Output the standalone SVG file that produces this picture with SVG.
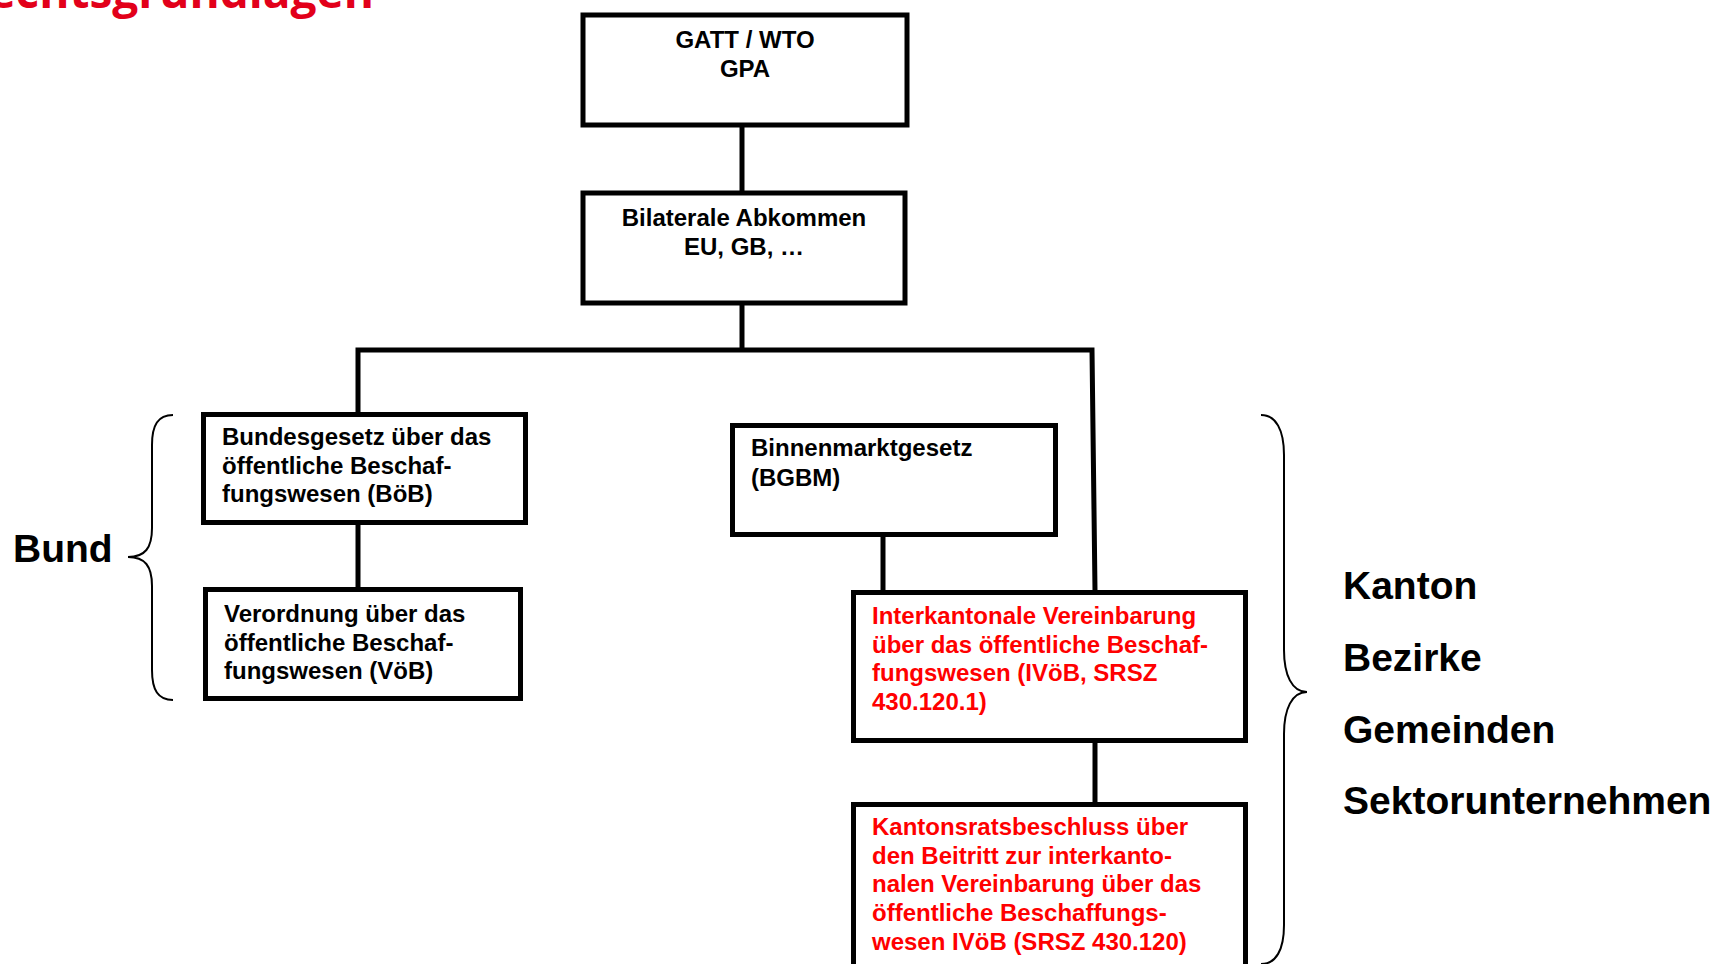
<svg xmlns="http://www.w3.org/2000/svg" width="1722" height="964" viewBox="0 0 1722 964">
<style>
.box{fill:#fff;stroke:#000;stroke-width:5}
.con{fill:none;stroke:#000;stroke-width:5;stroke-linejoin:miter}
.brace{fill:none;stroke:#000;stroke-width:2}
.t{font-family:"Liberation Sans",Arial,sans-serif;font-weight:bold;font-size:24px;fill:#000}
.r{fill:#ff0000}
.big{font-family:"Liberation Sans",Arial,sans-serif;font-weight:bold;font-size:39px;fill:#000}
.title{font-family:"Open Sans","Liberation Sans",sans-serif;font-weight:bold;font-size:46px;fill:#e2001a}
</style>
<rect width="1722" height="964" fill="#fff"/>
<text class="title" x="374" y="8" text-anchor="end">Rechtsgrundlagen</text>
<g id="connectors">
<path class="con" d="M742,127 V191"/>
<path class="con" d="M742,305 V350"/>
<path class="con" d="M358,412 V350 H1092 L1095,590"/>
<path class="con" d="M358,525 V587"/>
<path class="con" d="M883,537 V590"/>
<path class="con" d="M1095,743 V802"/>
</g>
<g id="gatt">
<rect class="box" x="583" y="15" width="324" height="110"/>
<text class="t" x="745" y="48" text-anchor="middle">GATT / WTO</text>
<text class="t" x="745" y="77" text-anchor="middle">GPA</text>
</g>
<g id="bilateral">
<rect class="box" x="583" y="193" width="322" height="110"/>
<text class="t" x="744" y="226" text-anchor="middle">Bilaterale Abkommen</text>
<text class="t" x="744" y="255" text-anchor="middle">EU, GB, …</text>
</g>
<g id="boeb">
<rect class="box" x="203.5" y="414.5" width="322" height="108"/>
<text class="t" x="222" y="445">Bundesgesetz über das</text>
<text class="t" x="222" y="474">öffentliche Beschaf-</text>
<text class="t" x="222" y="502">fungswesen (BöB)</text>
</g>
<g id="voeb">
<rect class="box" x="205.5" y="589.5" width="315" height="109"/>
<text class="t" x="224" y="622">Verordnung über das</text>
<text class="t" x="224" y="651">öffentliche Beschaf-</text>
<text class="t" x="224" y="679">fungswesen (VöB)</text>
</g>
<g id="bgbm">
<rect class="box" x="732.5" y="425.5" width="323" height="109"/>
<text class="t" x="751" y="456">Binnenmarktgesetz</text>
<text class="t" x="751" y="486">(BGBM)</text>
</g>
<g id="ivoeb">
<rect class="box" x="853.5" y="592.5" width="392" height="148"/>
<text class="t r" x="872" y="624">Interkantonale Vereinbarung</text>
<text class="t r" x="872" y="653">über das öffentliche Beschaf-</text>
<text class="t r" x="872" y="681">fungswesen (IVöB, SRSZ</text>
<text class="t r" x="872" y="710">430.120.1)</text>
</g>
<g id="krb">
<rect class="box" x="853.5" y="804.5" width="392" height="200"/>
<text class="t r" x="872" y="835">Kantonsratsbeschluss über</text>
<text class="t r" x="872" y="864">den Beitritt zur interkanto-</text>
<text class="t r" x="872" y="892">nalen Vereinbarung über das</text>
<text class="t r" x="872" y="921">öffentliche Beschaffungs-</text>
<text class="t r" x="872" y="950">wesen IVöB (SRSZ 430.120)</text>
</g>
<g id="bund">
<path class="brace" d="M173,415 C158,415 152,425 152,445 V528 C152,548 145,557 128,557 C145,557 152,566 152,586 V670 C152,690 158,700 173,700"/>
<text class="big" x="13" y="562">Bund</text>
</g>
<g id="kanton">
<path class="brace" d="M1261,415 C1276,415 1284,430 1284,455 V650 C1284,675 1292,692 1307,692 C1292,692 1284,709 1284,734 V925 C1284,950 1276,964 1261,964"/>
<text class="big" x="1343" y="599">Kanton</text>
<text class="big" x="1343" y="671">Bezirke</text>
<text class="big" x="1343" y="743">Gemeinden</text>
<text class="big" x="1343" y="814">Sektorunternehmen</text>
</g>
</svg>
